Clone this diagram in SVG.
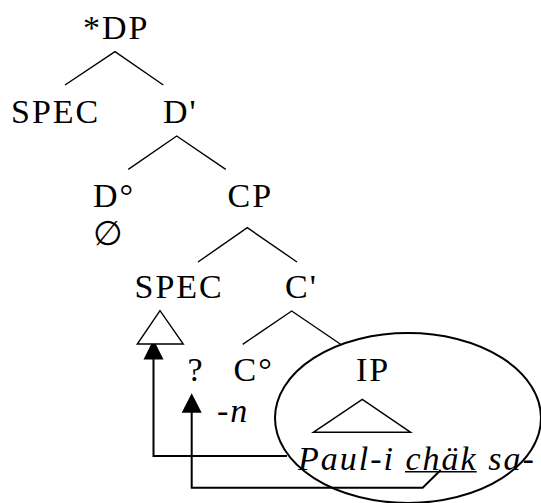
<svg xmlns="http://www.w3.org/2000/svg" width="541" height="503" viewBox="0 0 541 503">
<style>
.t{font-family:'Liberation Serif','Times New Roman',serif;font-size:34px;fill:#000;letter-spacing:2px}
.i{font-style:italic}
.l{stroke:#000;stroke-width:1.4;fill:none}
.a{stroke:#000;stroke-width:2;fill:none}
.h{fill:#000;stroke:none}
.tri{stroke:#000;stroke-width:1.4;fill:#fff}
</style>
<rect width="541" height="503" fill="#fff"/>
<g id="connectors">
<polyline class="l" points="65,85 115,51.7 163.3,85"/>
<polyline class="l" points="128.3,169.3 176.7,136 225.7,169.3"/>
<polyline class="l" points="198,262 247.3,227.7 297,262"/>
<polyline class="l" points="242.7,344.3 291.7,311 341.7,345"/>
<path class="a" d="M287,456 H153.5 V358"/>
<polygon class="h" points="153.5,339.5 143.5,359.5 163.5,359.5"/>
<path class="a" d="M440.7,470 L422.7,487.7 H191.7 V411"/>
<polygon class="h" points="191.7,393.3 181.7,412.7 201.7,412.7"/>
</g>
<g id="node-DP"><text class="t" x="83" y="38.5">*DP</text></g>
<g id="node-SPEC1"><text class="t" x="11" y="122.7">SPEC</text></g>
<g id="node-Dbar"><text class="t" x="163" y="122.7">D'</text></g>
<g id="node-D0"><text class="t" x="93" y="206.7">D°</text><text class="t" x="109" y="244.5" text-anchor="middle">∅</text></g>
<g id="node-CP"><text class="t" x="227.5" y="206.7">CP</text></g>
<g id="node-SPEC2"><text class="t" x="134.5" y="297.7">SPEC</text><polygon class="tri" points="160,310.7 137.3,344 183.3,344"/></g>
<g id="node-Cbar"><text class="t" x="285" y="297.7">C'</text></g>
<g id="node-q"><text class="t" x="187.5" y="381">?</text></g>
<g id="node-C0"><text class="t" x="233.5" y="381">C°</text></g>
<g id="node-n"><text class="t i" x="217" y="421.7">-n</text></g>
<g id="node-IP">
<ellipse class="a" cx="408" cy="418" rx="133" ry="85"/>
<text class="t" x="356" y="381">IP</text>
<polygon class="tri" points="362.3,399.3 313.3,432.3 410.7,432.3"/>
<text class="t i" x="298" y="470">Paul-i chäk sa-</text>
<line x1="405" y1="471.8" x2="476.7" y2="471.8" stroke="#000" stroke-width="1.6"/>
</g>
</svg>
